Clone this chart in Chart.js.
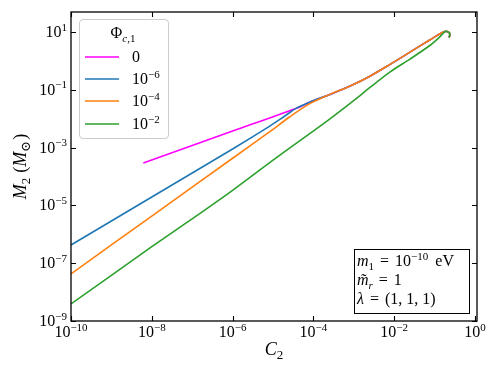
<!DOCTYPE html>
<html>
<head>
<meta charset="utf-8">
<script src="https://cdn.jsdelivr.net/npm/chart.js@4.4.0/dist/chart.umd.min.js"></script>
<style>
    html, body { margin: 0; padding: 0; background: #fff; }
    #wrap { width: 498px; height: 374px; position: relative; }
</style>
</head>
<body>
<div id="wrap"><canvas id="massChart"></canvas></div>
<script>
// 数据
const phi0X = [6.17e-9, 1e-6, 3.98e-5, 8.32e-5];
const phi0Y = [2.95e-4, 3.72e-3, 2.34e-2, 3.80e-2];
const phi6X = [1e-10, 1e-8, 1e-6, 8.51e-6, 2.00e-5, 3.98e-5, 8.32e-5];
const phi6Y = [4.27e-7, 1.95e-5, 8.91e-4, 5.62e-3, 1.26e-2, 2.40e-2, 3.80e-2];
const phi4X = [1e-10, 1e-8, 1e-6, 8.51e-6, 2.51e-5, 7.94e-5];
const phi4Y = [4.27e-8, 4.27e-6, 4.27e-4, 3.63e-3, 1.12e-2, 3.24e-2];
const phi2X = [1e-10, 1e-8, 9.12e-8, 1e-6, 8.91e-6, 2.19e-5, 2.34e-4, 1.17e-3, 2.51e-3, 7.94e-3, 2.45e-2, 7.76e-2, 0.135];
const phi2Y = [3.89e-9, 3.72e-7, 3.13e-6, 3.31e-5, 3.24e-4, 8.13e-4, 8.91e-3, 5.01e-2, 0.120, 0.417, 1.148, 3.47, 6.76];
// shared upper branch
const branchX = [2.57e-4, 8.13e-4, 2.51e-3, 7.94e-3, 2.45e-2, 7.76e-2, 0.151];
const branchY = [6.92e-2, 0.135, 0.295, 0.759, 2.0, 5.37, 9.33];
// turn-over at the end
const tipX = [0.182, 0.204, 0.232, 0.237, 0.229];
const tipY = [10.35, 10.35, 9.33, 7.76, 6.46];

const legendBase = ['0', '10', '10', '10'];
const legendExp = ['', '−6', '−4', '−2'];
const colors = ['#ff00ff', '#1f77b4', '#ff7f0e', '#2ca02c'];

const xTicks = [1e-10, 1e-8, 1e-6, 1e-4, 1e-2, 1];
const xTickExp = ['−10', '−8', '−6', '−4', '−2', '0'];
const yTicks = [1e-9, 1e-7, 1e-5, 1e-3, 1e-1, 10];
const yTickExp = ['−9', '−7', '−5', '−3', '−1', '1'];

const SERIF = '"Liberation Serif", "DejaVu Serif", serif';

function toPoints(xs, ys) {
    return xs.map((x, i) => ({ x: x, y: ys[i] }));
}

function fontFor(p, size) {
    const s = (p.sup || p.sub) ? Math.round(size * 0.7) : size;
    return (p.it ? 'italic ' : '') + s + 'px ' + SERIF;
}

function richWidth(ctx, parts, size) {
    let w = 0;
    parts.forEach(p => {
        ctx.font = fontFor(p, size);
        w += (p.gap || 0) + ctx.measureText(p.t).width;
    });
    return w;
}

function drawRich(ctx, parts, x, y, size, align) {
    const w = richWidth(ctx, parts, size);
    let cx = align === 'center' ? x - w / 2 : (align === 'right' ? x - w : x);
    ctx.textAlign = 'left';
    ctx.textBaseline = 'alphabetic';
    parts.forEach(p => {
        ctx.font = fontFor(p, size);
        cx += p.gap || 0;
        const dy = p.sup ? -size * 0.4 : (p.sub ? size * 0.22 : 0);
        ctx.fillText(p.t, cx, y + dy);
        cx += ctx.measureText(p.t).width;
    });
}

// 边框、刻度、文字
const decorations = {
    id: 'decorations',
    afterDraw(chart) {
        const ctx = chart.ctx;
        const a = chart.chartArea;
        const xs = chart.scales.x;
        const ys = chart.scales.y;
        ctx.save();
        ctx.fillStyle = '#000';
        ctx.strokeStyle = '#000';

        // inward ticks
        ctx.lineWidth = 1.1;
        ctx.beginPath();
        xTicks.forEach(v => {
            const px = Math.round(xs.getPixelForValue(v)) + 0.5;
            ctx.moveTo(px, a.bottom); ctx.lineTo(px, a.bottom - 5);
            ctx.moveTo(px, a.top); ctx.lineTo(px, a.top + 5);
        });
        yTicks.forEach(v => {
            const py = Math.round(ys.getPixelForValue(v)) + 0.5;
            ctx.moveTo(a.left, py); ctx.lineTo(a.left + 5, py);
            ctx.moveTo(a.right, py); ctx.lineTo(a.right - 5, py);
        });
        ctx.stroke();

        ctx.lineWidth = 1.3;
        ctx.strokeRect(a.left, a.top, a.right - a.left, a.bottom - a.top);

        // tick labels
        xTicks.forEach((v, i) => {
            const px = xs.getPixelForValue(v);
            drawRich(ctx, [{ t: '10' }, { t: xTickExp[i], sup: true }], px, a.bottom + 16, 16, 'center');
        });
        yTicks.forEach((v, i) => {
            const py = ys.getPixelForValue(v);
            drawRich(ctx, [{ t: '10' }, { t: yTickExp[i], sup: true }], a.left - 4, py + 5, 16, 'right');
        });

        // axis titles
        drawRich(ctx, [{ t: 'C', it: true }, { t: '2', sub: true }], (a.left + a.right) / 2, 355, 18, 'center');
        ctx.save();
        ctx.translate(26, (a.top + a.bottom) / 2);
        ctx.rotate(-Math.PI / 2);
        drawRich(ctx, [{ t: 'M', it: true }, { t: '2', sub: true }, { t: '(', gap: 5 },
            { t: 'M', it: true }, { t: '⊙', sub: true }, { t: ')', gap: 1 }], 0, 0, 18, 'center');
        ctx.restore();

        // legend
        const lx = 79, ly = 19, lw = 89, lh = 119;
        ctx.beginPath();
        ctx.roundRect(lx + 0.5, ly + 0.5, lw, lh, 3.5);
        ctx.fillStyle = 'rgba(255,255,255,0.8)';
        ctx.fill();
        ctx.strokeStyle = '#cccccc';
        ctx.lineWidth = 1;
        ctx.stroke();
        ctx.fillStyle = '#000';
        drawRich(ctx, [{ t: 'Φ' }, { t: 'c', sub: true, it: true }, { t: ',1', sub: true }], 123, 38, 16, 'center');
        const rowY = [57, 79, 101, 124];
        chart.data.datasets.forEach((ds, i) => {
            ctx.strokeStyle = ds.borderColor;
            ctx.lineWidth = 1.5;
            ctx.beginPath();
            ctx.moveTo(85, rowY[i]);
            ctx.lineTo(119, rowY[i]);
            ctx.stroke();
            const parts = [{ t: legendBase[i] }];
            if (legendExp[i]) parts.push({ t: legendExp[i], sup: true });
            drawRich(ctx, parts, 132, rowY[i] + 5, 16, 'left');
        });

        // parameter box
        ctx.fillStyle = '#fff';
        ctx.fillRect(354, 249, 115, 64);
        ctx.strokeStyle = '#000';
        ctx.lineWidth = 1;
        ctx.strokeRect(354.5, 249.5, 115, 64);
        ctx.fillStyle = '#000';
        drawRich(ctx, [{ t: 'm', it: true }, { t: '1', sub: true }, { t: '=', gap: 6 }, { t: '10', gap: 6 },
            { t: '−10', sup: true }, { t: 'eV', gap: 7 }], 357, 266, 16, 'left');
        drawRich(ctx, [{ t: 'm̃', it: true }, { t: 'r', sub: true, it: true }, { t: '=', gap: 6 }, { t: '1', gap: 6 }],
            357, 285, 16, 'left');
        drawRich(ctx, [{ t: 'λ', it: true }, { t: '=', gap: 6 }, { t: '(1, 1, 1)', gap: 6 }], 357, 304, 16, 'left');

        ctx.restore();
    }
};

function makeDataset(i, xs, ys, order) {
    return {
        data: toPoints(xs, ys),
        borderColor: colors[i],
        backgroundColor: colors[i],
        borderWidth: 1.6,
        pointRadius: 0,
        showLine: true,
        fill: false,
        tension: 0.3,
        order: order
    };
}

document.addEventListener('DOMContentLoaded', function() {
    const ctx = document.getElementById('massChart');
    new Chart(ctx, {
        type: 'scatter',
        data: {
            datasets: [
                makeDataset(0, phi0X.concat(branchX, tipX), phi0Y.concat(branchY, tipY), 4),
                makeDataset(1, phi6X.concat(branchX, tipX), phi6Y.concat(branchY, tipY), 3),
                makeDataset(2, phi4X.concat(branchX, tipX), phi4Y.concat(branchY, tipY), 2),
                makeDataset(3, phi2X.concat(tipX), phi2Y.concat(tipY), 1)
            ]
        },
        options: {
            responsive: true,
            maintainAspectRatio: false,
            animation: false,
            layout: { padding: { left: 71, top: 12, right: 21, bottom: 53 } },
            plugins: {
                legend: { display: false },
                tooltip: { enabled: false }
            },
            scales: {
                x: { type: 'logarithmic', min: 1e-10, max: 1.12, display: false },
                y: { type: 'logarithmic', min: 1e-9, max: 49, display: false }
            }
        },
        plugins: [decorations]
    });
});
</script>
</body>
</html>
